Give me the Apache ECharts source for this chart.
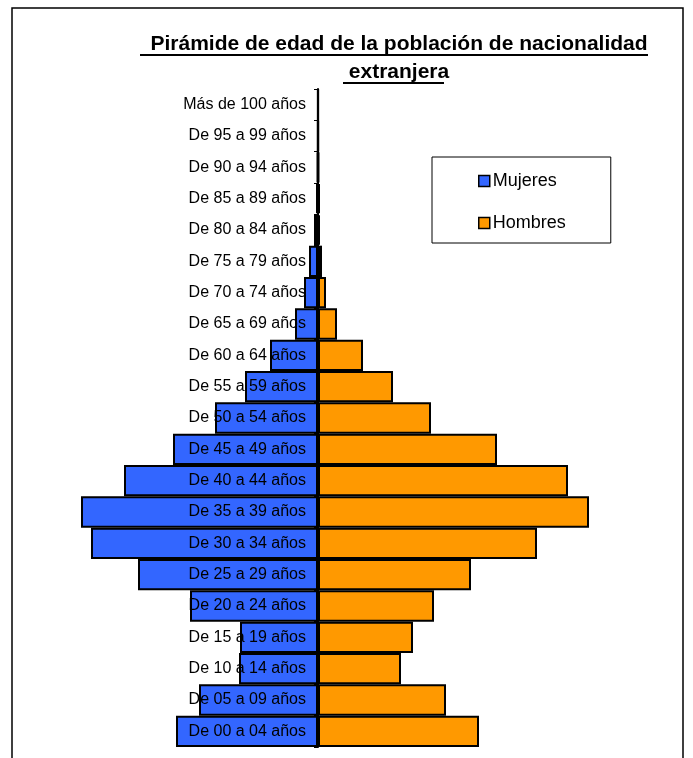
<!DOCTYPE html>
<html><head><meta charset="utf-8">
<script src="https://cdn.jsdelivr.net/npm/echarts@6/dist/echarts.min.js"></script>
<style>html,body{margin:0;padding:0;background:#fff}#c{width:693px;height:758px}</style>
</head><body><div id="c"></div>
<script>
const categories = ["De 00 a 04 años","De 05 a 09 años","De 10 a 14 años","De 15 a 19 años","De 20 a 24 años","De 25 a 29 años","De 30 a 34 años","De 35 a 39 años","De 40 a 44 años","De 45 a 49 años","De 50 a 54 años","De 55 a 59 años","De 60 a 64 años","De 65 a 69 años","De 70 a 74 años","De 75 a 79 años","De 80 a 84 años","De 85 a 89 años","De 90 a 94 años","De 95 a 99 años","Más de 100 años"];
const mujeres = [142,119,79,78,128,180,227,237,194,145,103,73,48,23,14,9,4,2,1,0.5,0.3];
const hombres = [161,128,83,95,116,153,219,271,250,179,113,75,45,19,8,4,2,2,1,0.5,0.3];
const titleText = "Pirámide de edad de la población de nacionalidad\nextranjera";

const chart = echarts.init(document.getElementById('c'));
const font = "'Liberation Sans', Arial, sans-serif";
chart.setOption({
  animation:false,
  textStyle:{fontFamily:font},
  title:{text:titleText,left:394,top:25,textAlign:'center',
    textStyle:{fontSize:21,fontWeight:'bold',color:'#000',lineHeight:28,fontFamily:font}},
  legend:{orient:'vertical',left:432,top:157,padding:[15,45,11,46],itemGap:24,
    borderColor:'#000',borderWidth:1,itemWidth:11,itemHeight:11,icon:'rect',
    itemStyle:{borderColor:'#000',borderWidth:1.5},
    textStyle:{fontSize:18,color:'#000',fontFamily:font,padding:[0,0,0,-2]},
    data:['Mujeres','Hombres']},
  grid:{left:18,right:75,top:89,bottom:11,containLabel:false,outerBoundsMode:'none'},
  xAxis:{type:'value',min:-300,max:300,show:false},
  yAxis:{type:'category',data:categories,z:10,position:'left',offset:-300,
    axisLine:{onZero:false,lineStyle:{color:'#000',width:2}},
    axisTick:{show:true,length:4,lineStyle:{color:'#000',width:1}},
    axisLabel:{fontSize:16,color:'#000',margin:12,fontFamily:font},
    splitLine:{show:false}},
  graphic:[
    {type:'rect',shape:{x:12,y:8,width:671,height:800},style:{fill:null,stroke:'#000',lineWidth:1.5},z:-1,silent:true},
    {type:'line',shape:{x1:140,y1:55,x2:648,y2:55},style:{stroke:'#000',lineWidth:2}},
    {type:'line',shape:{x1:343,y1:83,x2:444,y2:83},style:{stroke:'#000',lineWidth:2}}
  ],
  series:[
    {name:'Mujeres',type:'bar',stack:'p',data:mujeres.map(v=>-v),barCategoryGap:0,
     itemStyle:{color:'#3366FF',borderColor:'#000',borderWidth:2}},
    {name:'Hombres',type:'bar',stack:'p',data:hombres,barCategoryGap:0,
     itemStyle:{color:'#FF9900',borderColor:'#000',borderWidth:2}}
  ]
});
</script></body></html>
